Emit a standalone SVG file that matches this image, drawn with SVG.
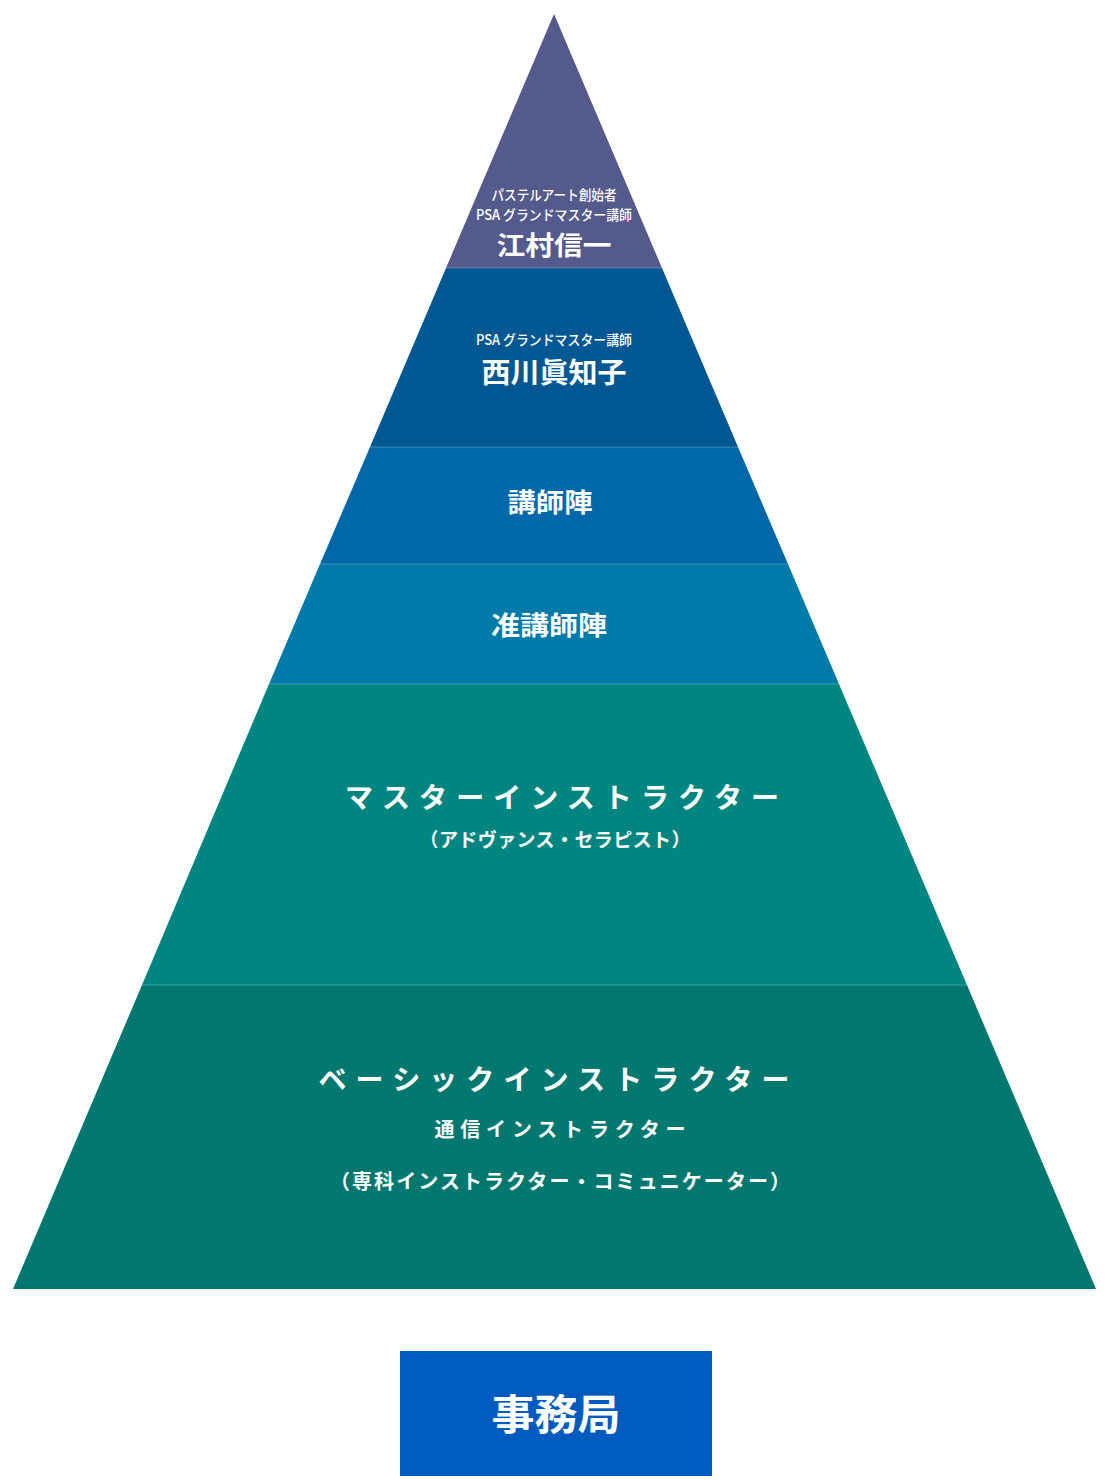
<svg xmlns="http://www.w3.org/2000/svg" width="1110" height="1480" viewBox="0 0 1110 1480">
<style>
text{font-family:"Noto Sans CJK JP","Noto Sans",sans-serif;fill:#fff;text-anchor:middle;font-weight:bold}
.s{font-weight:500;font-size:14px}
.sep{stroke:#ffffff;stroke-opacity:0.25;stroke-width:1}
</style>
<rect width="1110" height="1480" fill="#fff"/>
<g id="tier1"><polygon points="554,14 662,268 446,268" fill="#545a8c"/>
<text class="s" x="554" y="200" textLength="125" lengthAdjust="spacingAndGlyphs">パステルアート創始者</text>
<text class="s" x="554" y="220" textLength="156" lengthAdjust="spacingAndGlyphs">PSA グランドマスター講師</text>
<text x="554" y="255" font-size="26" textLength="115" lengthAdjust="spacingAndGlyphs">江村信一</text></g>
<g id="tier2"><polygon points="446,268 662,268 738,447 370,447" fill="#005893"/>
<text class="s" x="554" y="345" textLength="156" lengthAdjust="spacingAndGlyphs">PSA グランドマスター講師</text>
<text x="554" y="383" font-size="28" textLength="145" lengthAdjust="spacingAndGlyphs">西川眞知子</text></g>
<g id="tier3"><polygon points="370,447 738,447 788,564 320,564" fill="#0068a8"/>
<text x="550" y="512" font-size="26" textLength="85" lengthAdjust="spacingAndGlyphs">講師陣</text></g>
<g id="tier4"><polygon points="320,564 788,564 839,684 269,684" fill="#007aa8"/>
<text x="549" y="635" font-size="26" textLength="116" lengthAdjust="spacingAndGlyphs">准講師陣</text></g>
<g id="tier5"><polygon points="269,684 839,684 967,985 142,985" fill="#008580"/>
<text x="562" y="808" font-size="28" textLength="434" lengthAdjust="spacing">マスターインストラクター</text>
<text x="555" y="847" font-size="19" font-weight="500" textLength="271" lengthAdjust="spacing">（アドヴァンス・セラピスト）</text></g>
<g id="tier6"><polygon points="142,985 967,985 1096,1289 13,1289" fill="#007870"/>
<text x="554" y="1090" font-size="28" textLength="471" lengthAdjust="spacing">ベーシックインストラクター</text>
<text x="560" y="1137" font-size="20" textLength="251" lengthAdjust="spacing">通信インストラクター</text>
<text x="560" y="1189" font-size="20" textLength="460" lengthAdjust="spacing">（専科インストラクター・コミュニケーター）</text></g>
<g id="connectors">
<line class="sep" x1="446" y1="268" x2="662" y2="268"/>
<line class="sep" x1="370" y1="447" x2="738" y2="447"/>
<line class="sep" x1="320" y1="564" x2="788" y2="564"/>
<line class="sep" x1="269" y1="684" x2="839" y2="684"/>
<line class="sep" x1="142" y1="985" x2="967" y2="985"/>
</g>
<g id="office"><rect x="400" y="1351" width="312" height="125" fill="#005bbf"/>
<text x="556" y="1430" font-size="42" textLength="129" lengthAdjust="spacingAndGlyphs">事務局</text></g>
</svg>
